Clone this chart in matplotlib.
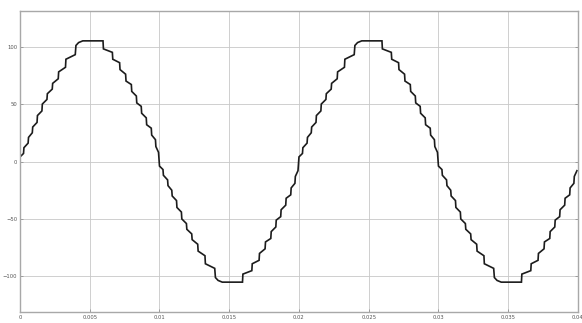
import matplotlib

matplotlib.use("Agg")
import matplotlib.pyplot as plt

# One positive half-cycle of the stepped output (time in s, value)
t_half = [
    0.0, 0.00025, 0.00028, 0.00058, 0.00061, 0.00088, 0.00091,
    0.00122, 0.00125, 0.00157, 0.00160, 0.00193, 0.00196,
    0.00231, 0.00234, 0.00274, 0.00277, 0.00326, 0.00329,
    0.00396, 0.00401, 0.00420, 0.00450, 0.00595, 0.00598,
    0.00662, 0.00665, 0.00714, 0.00717, 0.00757, 0.00760,
    0.00798, 0.00801, 0.00834, 0.00837, 0.00869, 0.00872,
    0.00905, 0.00908, 0.00941, 0.00944, 0.00971, 0.00974, 0.00993,
]
v_half = [
    4, 7, 12, 16, 21, 25, 30,
    34, 40, 44, 50, 54, 59,
    63, 68, 72, 78, 82, 89,
    93, 101, 103.5, 105, 105, 98,
    95, 89, 86, 80, 76, 70,
    67, 61, 57, 51, 48, 42,
    38, 32, 29, 23, 19, 13, 8,
]
half_period = 0.01
n_halves = 4

x_ticks = [0, 0.005, 0.01, 0.015, 0.02, 0.025, 0.03, 0.035, 0.04]
x_labels = ["0", "0.005", "0.01", "0.015", "0.02", "0.025", "0.03", "0.035", "0.04"]
y_ticks = [-100, -50, 0, 50, 100]

# negative half-cycles are the positive one flipped
t, v = [], []
for k in range(n_halves):
    sign = 1 if k % 2 == 0 else -1
    t += [ti + k * half_period for ti in t_half]
    v += [sign * vi for vi in v_half]

fig = plt.figure(figsize=(5.82, 3.23), dpi=100)
ax = fig.add_axes([0.0344, 0.034, 0.9586, 0.932])
ax.plot(t, v, color="#1c1c1c", linewidth=1.2, solid_joinstyle="miter")

ax.set_xlim(0, 0.04)
ax.set_ylim(-131, 131)
ax.set_xticks(x_ticks)
ax.set_xticklabels(x_labels)
ax.set_yticks(y_ticks)
ax.grid(True, color="#c8c8c8", linewidth=0.6)
ax.set_axisbelow(True)
ax.tick_params(axis="both", labelsize=3.8, labelcolor="#555555", color="#888888",
               direction="in", length=2, width=0.5, pad=2,
               right=True, top=False)
for spine in ax.spines.values():
    spine.set_color("#a8a8a8")
    spine.set_linewidth(1.0)

fig.savefig("out.png", dpi=100)
